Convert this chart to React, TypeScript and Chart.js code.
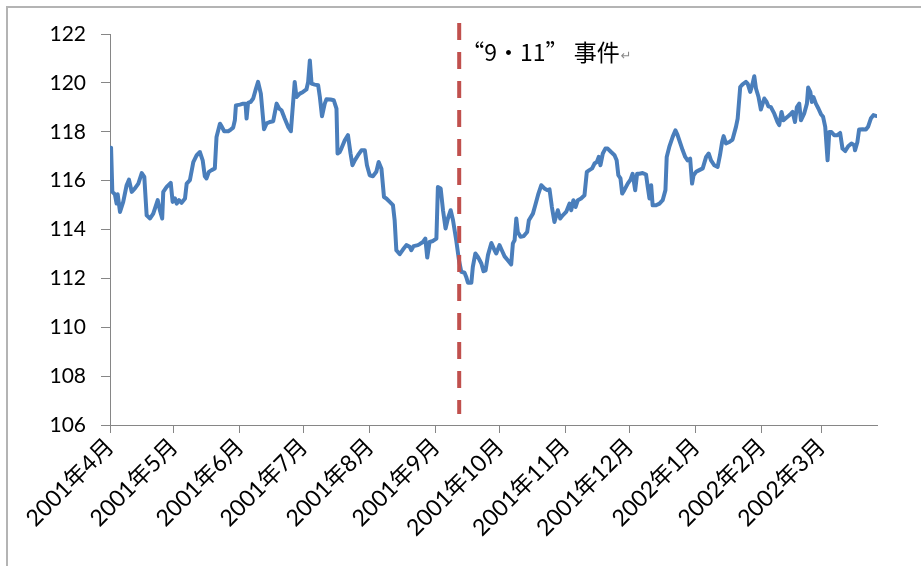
import React, { useEffect, useRef } from 'react';
import { Chart, registerables } from 'chart.js';

Chart.register(...registerables);

// Month starts, as day offsets from 2001-04-01
const MONTH_STARTS = [0, 30, 61, 91, 122, 153, 183, 214, 244, 275, 306, 334];
const MONTH_LABELS = [
  '2001年4月', '2001年5月', '2001年6月', '2001年7月', '2001年8月', '2001年9月',
  '2001年10月', '2001年11月', '2001年12月', '2002年1月', '2002年2月', '2002年3月',
];
const X_MIN = 0;
const X_MAX = 360;
const Y_MIN = 106;
const Y_MAX = 122;
const Y_STEP = 2;

// Day offsets (from 2001-04-01) of the traced series points
const DAYS = [
  0.5, 1.1, 2.3, 3.1, 3.6, 4.7, 6.2, 7.8, 8.9, 10.2,
  11.7, 13.3, 14.9, 16.1, 17.2, 18.8, 20.3, 22.4, 23.4, 24.5,
  25.0, 26.6, 28.5, 29.4, 30.5, 31.3, 32.4, 33.6, 35.2, 36.0,
  37.5, 39.1, 40.7, 42.2, 43.5, 44.5, 45.3, 46.4, 47.7, 49.2,
  50.0, 51.6, 52.4, 53.6, 55.5, 56.7, 57.8, 58.6, 59.1, 61.0,
  62.5, 63.6, 64.1, 64.8, 66.0, 67.2, 68.3, 69.5, 70.8, 72.3,
  73.5, 75.0, 76.6, 78.2, 79.4, 80.5, 82.0, 83.6, 84.9, 85.9,
  86.7, 87.5, 89.1, 90.6, 92.2, 93.0, 93.8, 94.6, 96.1, 97.7,
  98.5, 99.5, 100.8, 101.6, 103.5, 105.0, 106.3, 106.8, 107.8, 108.6,
  110.2, 111.7, 112.9, 113.8, 114.9, 116.4, 118.0, 119.6, 120.6, 121.9,
  123.4, 125.0, 126.1, 127.4, 128.6, 129.7, 131.3, 132.8, 133.6, 134.4,
  136.0, 137.5, 139.1, 140.7, 141.4, 142.5, 144.5, 145.3, 146.9, 148.0,
  148.9, 150.0, 151.6, 153.2, 153.9, 155.2, 156.3, 157.5, 158.6, 159.9,
  161.0, 162.5, 163.8, 164.9, 166.4, 167.2, 168.0, 169.6, 170.3, 171.5,
  172.7, 174.3, 175.3, 176.3, 177.4, 179.0, 180.5, 181.3, 182.8, 183.9,
  185.2, 186.7, 188.3, 189.1, 189.9, 190.7, 191.4, 192.7, 194.2, 195.8,
  196.6, 198.5, 199.6, 201.1, 202.4, 203.9, 205.2, 206.3, 207.4, 208.6,
  210.2, 211.3, 212.5, 214.1, 215.7, 216.5, 217.5, 218.5, 219.6, 221.1,
  222.7, 223.8, 225.0, 226.3, 227.4, 228.5, 229.4, 230.2, 231.3, 232.5,
  233.6, 235.2, 236.8, 237.8, 238.6, 239.6, 240.4, 241.4, 243.0, 244.3,
  245.3, 246.5, 247.4, 248.5, 250.0, 251.6, 252.4, 253.2, 254.0, 254.7,
  256.3, 257.9, 259.4, 260.7, 261.3, 262.5, 264.1, 265.4, 266.4, 267.7,
  268.8, 270.0, 271.1, 272.3, 273.2, 273.9, 275.1, 276.6, 278.2, 279.8,
  281.0, 282.1, 283.6, 285.2, 286.3, 287.3, 288.0, 289.1, 290.7, 292.2,
  293.8, 294.6, 295.8, 296.9, 298.5, 299.3, 300.5, 301.6, 302.4, 303.2,
  304.4, 305.5, 307.1, 308.2, 309.0, 310.2, 311.8, 313.3, 314.1, 315.2,
  316.1, 318.0, 319.6, 320.4, 321.5, 322.4, 323.5, 324.3, 325.8, 327.1,
  327.7, 328.7, 329.4, 330.2, 331.3, 332.5, 333.7, 334.7, 335.7, 336.8,
  337.6, 338.6, 339.9, 341.4, 342.7, 343.8, 345.1, 346.5, 348.0, 349.3,
  349.7, 350.8, 351.6, 353.2, 354.8, 355.8, 357.1, 358.3, 359.5,
];

// Exchange rate values at those days
const RATES = [
  117.35, 115.54, 115.44, 115.06, 115.44, 114.72, 115.13, 115.81, 116.04, 115.54,
  115.68, 115.88, 116.31, 116.15, 114.58, 114.45, 114.65, 115.2, 114.79, 114.45,
  115.54, 115.74, 115.91, 115.13, 115.27, 115.06, 115.2, 115.09, 115.27, 115.88,
  116.02, 116.76, 117.04, 117.17, 116.83, 116.18, 116.09, 116.36, 116.43, 116.5,
  117.79, 118.33, 118.22, 118.02, 118.02, 118.09, 118.17, 118.47, 119.08, 119.11,
  119.15, 119.15, 118.54, 119.18, 119.22, 119.36, 119.7, 120.04, 119.56, 118.1,
  118.34, 118.4, 118.43, 119.15, 118.95, 118.88, 118.54, 118.2, 118.02, 119.15,
  120.04, 119.42, 119.56, 119.63, 119.73, 120.04, 120.92, 119.97, 119.93, 119.9,
  119.42, 118.63, 119.15, 119.33, 119.32, 119.29, 118.95, 117.11, 117.17, 117.31,
  117.65, 117.86, 117.11, 116.63, 116.83, 117.04, 117.24, 117.24, 116.63, 116.22,
  116.18, 116.36, 116.76, 116.49, 115.33, 115.27, 115.13, 115.0, 114.38, 113.15,
  112.99, 113.18, 113.36, 113.29, 113.15, 113.32, 113.36, 113.4, 113.49, 113.63,
  112.85, 113.49, 113.53, 113.63, 115.74, 115.68, 114.79, 114.04, 114.45, 114.79,
  114.38, 113.56, 112.74, 112.27, 112.23, 112.06, 111.82, 111.82, 112.47, 113.02,
  112.88, 112.61, 112.29, 112.33, 112.95, 113.45, 113.15, 113.02, 113.36, 113.15,
  112.9, 112.74, 112.57, 113.43, 113.56, 114.45, 113.9, 113.7, 113.73, 113.9,
  114.38, 114.65, 114.99, 115.47, 115.81, 115.68, 115.61, 115.64, 114.92, 114.31,
  114.79, 114.45, 114.58, 114.72, 115.06, 114.79, 115.2, 114.92, 115.2, 115.27,
  115.4, 116.36, 116.43, 116.5, 116.7, 116.76, 116.97, 116.63, 117.11, 117.31,
  117.31, 117.17, 117.04, 116.83, 116.22, 116.09, 115.47, 115.61, 115.88, 116.04,
  116.28, 115.61, 116.28, 116.28, 116.31, 116.25, 115.74, 115.27, 115.81, 114.99,
  114.99, 115.06, 115.2, 115.61, 116.97, 117.38, 117.79, 118.06, 117.86, 117.52,
  117.24, 116.97, 116.83, 116.9, 115.88, 116.22, 116.36, 116.43, 116.5, 116.97,
  117.11, 116.83, 116.63, 116.56, 117.04, 117.58, 117.82, 117.52, 117.58, 117.68,
  118.2, 118.54, 119.83, 119.94, 120.04, 119.97, 119.63, 119.97, 120.27, 119.77,
  119.42, 118.91, 119.36, 119.22, 119.04, 119.01, 118.74, 118.4, 118.27, 118.81,
  118.47, 118.61, 118.74, 118.81, 118.4, 119.01, 119.15, 118.47, 118.74, 119.15,
  119.81, 119.63, 119.22, 119.42, 119.15, 118.95, 118.72, 118.61, 118.2, 116.83,
  117.99, 117.99, 117.86, 117.86, 117.95, 117.31, 117.21, 117.41, 117.52, 117.45,
  117.24, 117.58, 118.09, 118.1, 118.09, 118.2, 118.54, 118.68, 118.65,
];

// "9·11" event marker (day offset from 2001-04-01) and its label
const EVENT_DAY = 163.9;
const EVENT_LABEL = '“9・11” 事件';
const EVENT_LINE_TOP = 122.45;
const EVENT_LINE_BOTTOM = 106.45;
const EVENT_LABEL_VALUE = 121.25;

const AXIS_COLOR = '#868686';
const X_TICK_FONT = { family: "Lato, 'Noto Sans CJK SC', sans-serif", size: 23 };
const Y_TICK_FONT = { family: 'Lato, sans-serif', size: 21 };

export default function App() {
  const ref = useRef<HTMLCanvasElement>(null);

  useEffect(() => {
    const canvas = ref.current;
    if (!canvas) return;

    const eventPlugin = {
      id: 'event911',
      afterDatasetsDraw(chart: any) {
        const { ctx, scales } = chart;
        const xs = scales.x;
        const ys = scales.y;
        const px = xs.getPixelForValue(EVENT_DAY);
        ctx.save();
        ctx.strokeStyle = '#C0504D';
        ctx.lineWidth = 4;
        ctx.setLineDash([17, 12]);
        ctx.beginPath();
        ctx.moveTo(px, ys.getPixelForValue(EVENT_LINE_TOP));
        ctx.lineTo(px, ys.getPixelForValue(EVENT_LINE_BOTTOM));
        ctx.stroke();
        ctx.setLineDash([]);
        const ty = ys.getPixelForValue(EVENT_LABEL_VALUE);
        ctx.font = "23px 'Noto Sans CJK SC'";
        ctx.fillStyle = '#000';
        ctx.textBaseline = 'middle';
        ctx.textAlign = 'left';
        ctx.fillText(EVENT_LABEL, px + 2, ty);
        const w = ctx.measureText(EVENT_LABEL).width;
        ctx.font = "13px 'DejaVu Sans'";
        ctx.fillStyle = '#8a8a8a';
        ctx.fillText('↵', px + 2 + w + 1, ty + 4);
        ctx.restore();
      },
    };

    const chart = new Chart(canvas, {
      type: 'line',
      data: {
        datasets: [
          {
            data: DAYS.map((d, i) => ({ x: d, y: RATES[i] })),
            borderColor: '#4A7EBB',
            borderWidth: 4,
            pointRadius: 0,
            tension: 0,
            fill: false,
            borderJoinStyle: 'round',
            borderCapStyle: 'round',
          },
        ],
      },
      options: {
        responsive: false,
        animation: false,
        devicePixelRatio: 1,
        layout: { padding: { left: 0, top: 34, right: 44, bottom: 0 } },
        plugins: {
          legend: { display: false },
          tooltip: { enabled: false },
        },
        scales: {
          x: {
            type: 'linear',
            min: X_MIN,
            max: X_MAX,
            afterBuildTicks: (s: any) => {
              s.ticks = MONTH_STARTS.map((v) => ({ value: v }));
            },
            afterFit: (s: any) => {
              s.height = 141;
            },
            grid: {
              drawOnChartArea: false,
              drawTicks: true,
              tickLength: 8,
              color: AXIS_COLOR,
            },
            border: { color: AXIS_COLOR, width: 1 },
            ticks: {
              autoSkip: false,
              minRotation: 45,
              maxRotation: 45,
              padding: 0,
              color: '#000',
              font: X_TICK_FONT,
              callback: (_v: any, i: number) => MONTH_LABELS[i],
            },
          },
          y: {
            min: Y_MIN,
            max: Y_MAX,
            afterFit: (s: any) => {
              s.width = 110;
            },
            grid: {
              drawOnChartArea: false,
              drawTicks: true,
              tickLength: 9,
              color: AXIS_COLOR,
            },
            border: { color: AXIS_COLOR, width: 1 },
            ticks: {
              stepSize: Y_STEP,
              padding: 15,
              color: '#000',
              font: Y_TICK_FONT,
            },
          },
        },
      },
      plugins: [eventPlugin],
    } as any);

    return () => chart.destroy();
  }, []);

  return (
    <div
      style={{
        position: 'fixed',
        left: 0,
        top: 0,
        width: 921,
        height: 566,
        overflow: 'hidden',
        background: '#fff',
      }}
    >
      <div
        style={{
          position: 'absolute',
          left: 6,
          top: 6,
          width: 940,
          height: 600,
          border: '2px solid #b4b4b4',
          boxSizing: 'border-box',
        }}
      />
      <canvas
        ref={ref}
        width={921}
        height={566}
        style={{ position: 'absolute', left: 0, top: 0, display: 'block' }}
      />
    </div>
  );
}
